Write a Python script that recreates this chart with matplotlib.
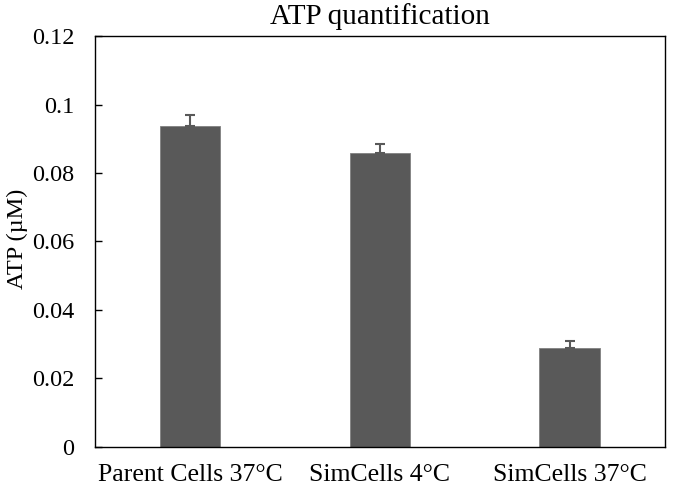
import matplotlib
matplotlib.use("Agg")
import matplotlib.pyplot as plt
import numpy as np

categories = ["Parent Cells 37°C", "SimCells 4°C", "SimCells 37°C"]
atp = [0.0937, 0.0859, 0.0289]
atp_err = [0.0032, 0.0026, 0.0020]

plt.rcParams['font.family'] = ['Liberation Serif', 'DejaVu Serif']
plt.rcParams['font.size'] = 17

fig = plt.figure(figsize=(6.75, 4.9), dpi=100)
ax = fig.add_axes([0.1407, 0.0878, 0.8443, 0.8387])

x = np.arange(len(categories))
ax.bar(x, atp, width=0.32, color='#595959', edgecolor='#808080', linewidth=0.6,
       yerr=[np.zeros(len(atp)), atp_err],
       error_kw=dict(ecolor='#595959', elinewidth=1.5, capsize=3.5, capthick=1.5))

ax.set_xlim(-0.5, 2.5)
ax.set_ylim(0, 0.12)
ax.set_yticks([0, 0.02, 0.04, 0.06, 0.08, 0.1, 0.12])
ax.set_yticklabels(["0", "0.02", "0.04", "0.06", "0.08", "0.1", "0.12"])
ax.set_xticks(x)
ax.set_xticklabels(categories, fontsize=18.5)
ax.tick_params(axis='y', direction='in', length=5, width=1, pad=15, labelsize=17.5)
ax.tick_params(axis='x', length=0, pad=12)
for s in ax.spines.values():
    s.set_linewidth(1.0)

ax.set_ylabel("ATP (µM)", fontsize=17.5)
ax.yaxis.set_label_coords(-0.118, 0.507)
ax.set_title("ATP quantification", pad=9, fontsize=21)

fig.savefig("out.png", dpi=100)
